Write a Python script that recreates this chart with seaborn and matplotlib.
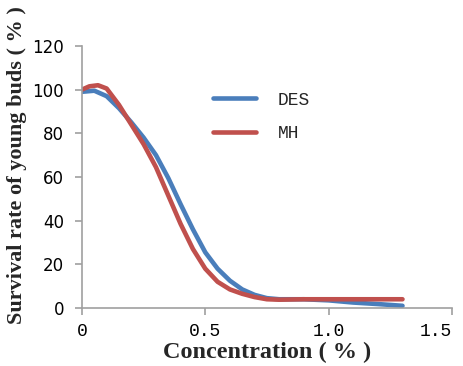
import matplotlib
matplotlib.use("Agg")
import matplotlib.pyplot as plt
import seaborn as sns
import pandas as pd

des_x = [0, 0.05, 0.1, 0.15, 0.2, 0.25, 0.3, 0.35, 0.4, 0.45, 0.5, 0.55, 0.6, 0.65, 0.7, 0.75, 0.8, 0.9, 1.0, 1.1, 1.2, 1.3]
des_y = [99, 99.5, 97, 91.5, 85, 78, 70, 59.5, 47.5, 36, 25.5, 18, 12.5, 8.5, 6, 4.5, 4, 4, 3.5, 2.5, 1.8, 1]
mh_x = [0, 0.03, 0.065, 0.1, 0.15, 0.2, 0.25, 0.3, 0.35, 0.4, 0.45, 0.5, 0.55, 0.6, 0.65, 0.7, 0.75, 0.8, 0.9, 1.0, 1.1, 1.2, 1.3]
mh_y = [100, 101.5, 102, 100.5, 93, 84, 75, 64.5, 51.5, 38.5, 27, 18, 12, 8.5, 6.5, 5, 4, 3.8, 4, 4, 4, 4, 4]

series_names = ["DES", "MH"]
colors = ["#4A7EBB", "#C0504D"]
x_ticks = [0, 0.5, 1.0, 1.5]
x_tick_labels = ["0", "0.5", "1.0", "1.5"]
y_ticks = [0, 20, 40, 60, 80, 100, 120]

df = pd.concat([
    pd.DataFrame({"x": des_x, "y": des_y, "series": "DES"}),
    pd.DataFrame({"x": mh_x, "y": mh_y, "series": "MH"}),
])

sns.set_style("white")
fig = plt.figure(figsize=(4.64, 3.66), dpi=100)
ax = fig.add_axes([0.1767, 0.1585, 0.797, 0.716])

sns.lineplot(data=df, x="x", y="y", hue="series", hue_order=series_names,
             palette=colors, estimator=None, sort=True, linewidth=3.3, ax=ax)
for ln in ax.get_lines():
    ln.set_solid_joinstyle("round")
    ln.set_solid_capstyle("round")

ax.set_xlim(0, 1.5)
ax.set_ylim(0, 120)
ax.set_xticks(x_ticks)
ax.set_xticklabels(x_tick_labels, family="Liberation Mono", fontsize=13)
ax.get_xticklabels()[-1].set_horizontalalignment("right")
ax.set_yticks(y_ticks)
ax.set_yticklabels([str(v) for v in y_ticks], family="DejaVu Sans", fontsize=12)

for s in ["top", "right"]:
    ax.spines[s].set_visible(False)
for s in ["left", "bottom"]:
    ax.spines[s].set_color("#A0A0A0")
    ax.spines[s].set_linewidth(1.2)
ax.tick_params(axis="both", which="both", direction="out", length=5, width=1.2,
               color="#A0A0A0", labelcolor="black", bottom=True, left=True)
ax.tick_params(axis="x", pad=6)
ax.tick_params(axis="y", pad=8)

ax.set_xlabel("Concentration ( % )", family="Liberation Serif", fontweight="bold", fontsize=17.5, labelpad=1)
ax.set_ylabel("Survival rate of young buds ( % )", family="Liberation Serif", fontweight="bold", fontsize=16)
ax.yaxis.set_label_coords(-0.15, 0.546)

leg = ax.legend(loc="upper left", bbox_to_anchor=(0.31, 0.887), frameon=False,
                prop={"family": "Liberation Mono", "size": 13},
                handlelength=2.4, handletextpad=1.2, labelspacing=0.9)
for line in leg.get_lines():
    line.set_linewidth(3.3)

fig.savefig("out.png", dpi=100)
